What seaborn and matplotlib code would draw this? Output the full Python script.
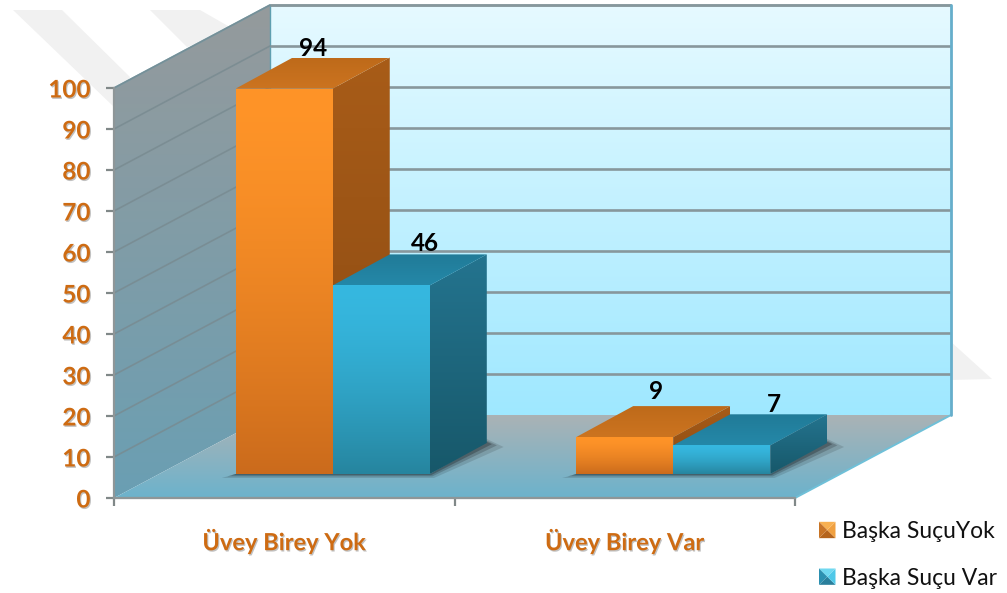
import numpy as np
import pandas as pd
import matplotlib
matplotlib.use("Agg")
import matplotlib.pyplot as plt
import matplotlib.patheffects as pe
from matplotlib.colors import to_rgb
from matplotlib.patches import Polygon, Rectangle
from matplotlib.legend_handler import HandlerBase
import seaborn as sns

categories = ["Üvey Birey Yok", "Üvey Birey Var"]
series_names = ["Başka SuçuYok", "Başka Suçu Var"]
yok_values = [94, 9]
var_values = [46, 7]
y_ticks = list(range(0, 101, 10))

W, H = 1007, 593
X0, X_UNIT = 114, 340.5      # pixel of x=-0.5, pixels per category
Y0, Y_UNIT = 498, 4.1        # pixel of y=0, pixels per value unit
WALL_DX, WALL_DY = 156 / X_UNIT, 83 / Y_UNIT
BAR_SX, BAR_SY = 48.5 / X_UNIT, 24 / Y_UNIT
DEP_DX, DEP_DY = 57 / X_UNIT, 31 / Y_UNIT

sns.set_theme(style="white")
plt.rcParams["font.family"] = ["Lato", "DejaVu Sans"]

fig = plt.figure(figsize=(W / 100, H / 100), dpi=100, facecolor="white")
ax = fig.add_axes([0, 0, 1, 1], facecolor="none")

df = pd.DataFrame({
    "cat": categories * 2,
    "series": [series_names[0]] * 2 + [series_names[1]] * 2,
    "val": yok_values + var_values,
})
sns.barplot(data=df, x="cat", y="val", hue="series", order=categories, hue_order=series_names,
            palette=["#F08A24", "#30A8CE"], width=0.57, gap=0, dodge=True, saturation=1,
            legend=False, ax=ax, linewidth=0, edgecolor="none")

xlim = (-0.5 - X0 / X_UNIT, -0.5 + (W - X0) / X_UNIT)
ylim = (-(H - Y0) / Y_UNIT, Y0 / Y_UNIT)


def grad_poly(verts, c_top, c_bot, z, power=1.0):
    verts = np.asarray(verts, float)
    t = (np.linspace(0, 1, 128) ** power)[:, None]
    a, b = np.array(to_rgb(c_top)), np.array(to_rgb(c_bot))
    img = (a + (b - a) * t)[:, None, :]
    ext = (verts[:, 0].min(), verts[:, 0].max(), verts[:, 1].min(), verts[:, 1].max())
    im = ax.imshow(img, extent=ext, origin="upper", aspect="auto", zorder=z, interpolation="bilinear")
    poly = Polygon(verts, closed=True, fc="none", ec="none", transform=ax.transData)
    ax.add_patch(poly)
    poly.set_zorder(z)
    im.set_clip_path(poly)
    return im


L, R = -0.5, 1.5
TOP = 100
# watermark strips
for pts in ([(13, 10), (62, 10), (130, 77), (114, 107)],
            [(150, 10), (200, 10), (235, 30), (187, 47)],
            [(950, 341), (992, 379), (950, 380)]):
    fig.patches.append(Polygon([(x / W, 1 - y / H) for x, y in pts], closed=True, fc="#F1F1F1", ec="none",
                               transform=fig.transFigure, figure=fig, zorder=-5))

# walls and floor
grad_poly([(L + WALL_DX, WALL_DY), (R + WALL_DX, WALL_DY), (R + WALL_DX, TOP + WALL_DY), (L + WALL_DX, TOP + WALL_DY)],
          "#E6FAFF", "#9FE8FF", 1)
grad_poly([(L, 0), (L + WALL_DX, WALL_DY), (L + WALL_DX, TOP + WALL_DY), (L, TOP)], "#959A9C", "#6A9FB3", 1)
grad_poly([(L, 0), (L + WALL_DX, WALL_DY), (R + WALL_DX, WALL_DY), (R, 0)], "#ABB2B5", "#6CB3CC", 1.1)
ax.plot([L + WALL_DX, R + WALL_DX], [TOP + WALL_DY, TOP + WALL_DY],
        color="#8FA5AA", lw=1.8, zorder=1.5, solid_capstyle="butt")
ax.plot([R + WALL_DX, R + WALL_DX], [TOP + WALL_DY, WALL_DY], color="#66AECB", lw=2.0, zorder=1.7)
ax.plot([L + WALL_DX, L + WALL_DX], [WALL_DY, TOP + WALL_DY], color="#5F9FB0", lw=1.0, zorder=1.5)
ax.plot([L, L + WALL_DX], [TOP, TOP + WALL_DY], color="#6FA5B5", lw=1.2, zorder=1.5)
ax.plot([R, R + WALL_DX], [0, WALL_DY], color="#6FC0D8", lw=1.4, zorder=1.5)
ax.plot([L, R], [0, 0], color="#9AA5A8", lw=1.5, zorder=1.5)

# gridlines
for v in y_ticks[1:]:
    ax.plot([L + WALL_DX, R + WALL_DX], [v + WALL_DY] * 2, color="#87979C", lw=1.9, zorder=1.6, solid_capstyle="butt")
    ax.plot([L, L + WALL_DX], [v, v + WALL_DY], color="#788A90", lw=1.2, zorder=1.6, alpha=0.8)

face_cols = [("#FF9428", "#CB6B1C"), ("#36B8E0", "#26859F")]
side_cols = [("#A85C18", "#8A4A12"), ("#24748F", "#17586A")]
top_cols = [("#BE6A1A", "#CC7420"), ("#217B98", "#2488A8")]

ax.set_xlim(*xlim)
ax.set_ylim(*ylim)

z = 3.0
label_offsets = [[(29, 40), (31, 46)], [(44, 42), (52, 41)]]
for s, cont in enumerate(ax.containers):
    for c, bar in enumerate(cont):
        x0 = bar.get_x() + BAR_SX
        x1 = x0 + bar.get_width()
        y0 = BAR_SY
        y1 = bar.get_height() + BAR_SY
        bar.set_x(x0)
        bar.set_y(y0)
        bar.set_zorder(z)
        grad_poly([(x0, y0), (x1, y0), (x1, y1), (x0, y1)], *face_cols[s], z + 0.3, power=1.5)
        grad_poly([(x1, y0), (x1 + DEP_DX, y0 + DEP_DY), (x1 + DEP_DX, y1 + DEP_DY), (x1, y1)], *side_cols[s], z + 0.1)
        grad_poly([(x0, y1), (x1, y1), (x1 + DEP_DX, y1 + DEP_DY), (x0 + DEP_DX, y1 + DEP_DY)], *top_cols[s], z + 0.2)
        ox, oy = label_offsets[s][c]
        ax.annotate(str(int(bar.get_height())), xy=(bar.get_x() + bar.get_width() / 2, y1),
                    xytext=(ox * 0.72, oy * 0.72), textcoords="offset points", ha="center", va="center",
                    fontsize=17.5, fontweight="bold", color="black", zorder=9, annotation_clip=False)
    z += 1

# soft contact shadows below each bar group
for c in range(2):
    bars = [ax.containers[s][c] for s in range(2)]
    xa = bars[0].get_x()
    xb = bars[1].get_x() + bars[1].get_width()
    for grow, alpha in ((1.0, 0.12), (0.6, 0.18), (0.3, 0.24)):
        ex = 14 / X_UNIT * grow
        ey = 4 / Y_UNIT * grow
        ax.add_patch(Polygon([(xa - ex, BAR_SY - ey), (xb + ex * 0.3, BAR_SY - ey),
                              (xb + DEP_DX + ex * 1.2, BAR_SY + DEP_DY - ey), (xb + DEP_DX, BAR_SY + DEP_DY + ey),
                              (xb, BAR_SY), (xa, BAR_SY)],
                             closed=True, fc="black", ec="none", alpha=alpha, zorder=2.5))

# axes, ticks and labels
for k in ("top", "right"):
    ax.spines[k].set_visible(False)
ax.spines["left"].set_position(("data", L))
ax.spines["left"].set_bounds(0, 100)
ax.spines["bottom"].set_position(("data", 0))
ax.spines["bottom"].set_bounds(L, R)
for k in ("left", "bottom"):
    ax.spines[k].set_color("#8E9698")
    ax.spines[k].set_linewidth(1.6)
    ax.spines[k].set_visible(True)
    ax.spines[k].set_zorder(2)

shadow = [pe.withSimplePatchShadow(offset=(0.8, -1.0), shadow_rgbFace="#777777", alpha=0.45)]
ax.set_yticks(y_ticks)
ax.set_yticklabels([str(v) for v in y_ticks], fontsize=17.5, fontweight="bold", color="#CE6B12", path_effects=shadow)
ax.set_xticks([0, 1])
ax.set_xticklabels(categories, fontsize=17, fontweight="bold", color="#CE6B12", path_effects=shadow)
ax.set_xticks([-0.5, 0.5, 1.5], minor=True)
ax.tick_params(axis="y", length=6, width=1.6, color="#808888", left=True, pad=11)
ax.tick_params(axis="x", which="major", length=0, pad=21)
ax.tick_params(axis="x", which="minor", length=6, width=1.6, color="#808888", bottom=True)
ax.set_xlabel("")
ax.set_ylabel("")
ax.set_xlim(*xlim)
ax.set_ylim(*ylim)
ax.grid(False)


class Pyramid(HandlerBase):
    def __init__(self, cols):
        super().__init__()
        self.cols = cols

    def create_artists(self, legend, orig, xd, yd, w, h, fontsize, trans):
        x, y = -xd, -yd
        cx, cy = x + w / 2, y + h / 2
        a = [(x, y), (x + w, y), (x + w, y + h), (x, y + h)]
        out = []
        for i, col in enumerate(self.cols):
            p = Polygon([a[i], a[(i + 1) % 4], (cx, cy)], closed=True, fc=col, ec="none", transform=trans)
            out.append(p)
        return out


h1 = Rectangle((0, 0), 1, 1, fc="#E08A30")
h2 = Rectangle((0, 0), 1, 1, fc="#30A8CE")
leg = ax.legend([h1, h2], series_names, loc="upper left", bbox_to_anchor=(819 / W, 1 - 521 / H), frameon=False,
                fontsize=16.5, labelspacing=1.12, handlelength=0.72, handleheight=0.72, handletextpad=0.3,
                borderpad=0, borderaxespad=0, labelcolor="#111111",
                handler_map={h1: Pyramid(["#B5641C", "#F0A040", "#F8B050", "#C87426"]),
                             h2: Pyramid(["#2A7F9C", "#50C8E8", "#70D8F0", "#2C90B0"])})

fig.savefig("out.png", dpi=100, facecolor="white")
